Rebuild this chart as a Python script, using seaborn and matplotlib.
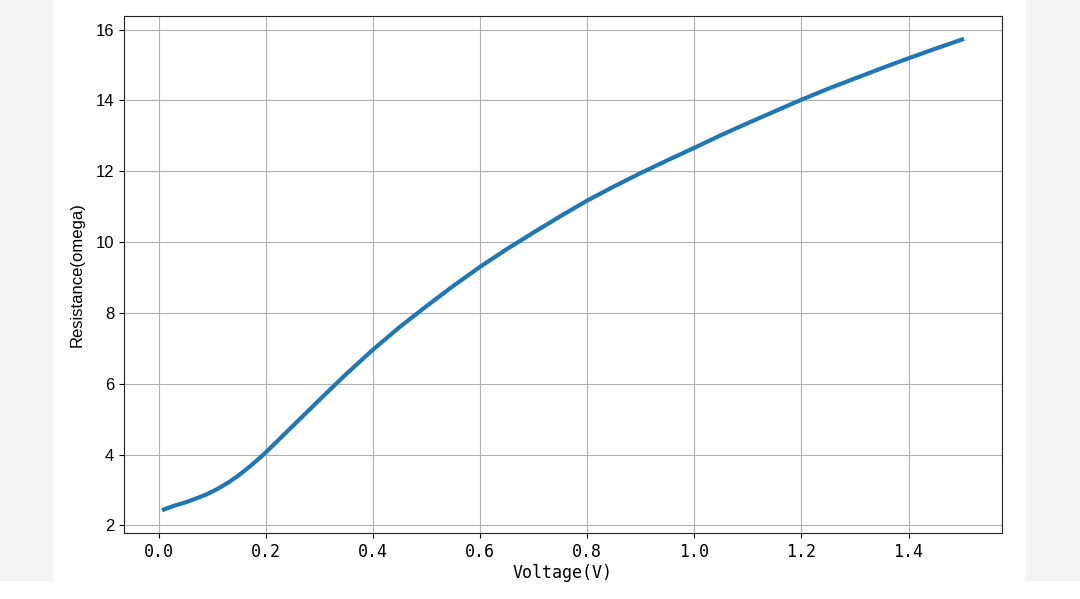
import matplotlib
matplotlib.use('Agg')
import matplotlib.pyplot as plt
import pandas as pd
import seaborn as sns
from matplotlib.patches import Rectangle

# Voltage (V) and resistance values
voltage = [0.01, 0.03, 0.05, 0.07, 0.09, 0.11, 0.13, 0.15, 0.17, 0.19,
           0.20, 0.25, 0.30, 0.35, 0.40, 0.45, 0.50, 0.55, 0.60, 0.65,
           0.70, 0.75, 0.80, 0.85, 0.90, 0.95, 1.00, 1.05, 1.10, 1.15,
           1.20, 1.25, 1.30, 1.35, 1.40, 1.45, 1.50]
resistance = [2.45, 2.56, 2.65, 2.76, 2.88, 3.03, 3.21, 3.42, 3.66, 3.92,
              4.06, 4.80, 5.54, 6.27, 6.96, 7.60, 8.19, 8.76, 9.30, 9.80,
              10.27, 10.73, 11.17, 11.57, 11.95, 12.31, 12.66, 13.02, 13.36, 13.69,
              14.02, 14.33, 14.62, 14.91, 15.19, 15.46, 15.72]

x_ticks = [0.0, 0.2, 0.4, 0.6, 0.8, 1.0, 1.2, 1.4]
x_tick_labels = ['0.0', '0.2', '0.4', '0.6', '0.8', '1.0', '1.2', '1.4']
y_ticks = [2, 4, 6, 8, 10, 12, 14, 16]

MONO = ['DejaVu Sans Mono', 'DejaVu Sans']
LATIN = ['Liberation Sans', 'DejaVu Sans']

df = pd.DataFrame({'voltage': voltage, 'resistance': resistance})

fig = plt.figure(figsize=(10.8, 5.99), dpi=100)

# blurred grey strips on both sides of the screenshot
fig.patches.append(Rectangle((0, 0.03), 53 / 1080, 0.97, transform=fig.transFigure,
                             facecolor='#f4f4f4', edgecolor='none', zorder=-10))
fig.patches.append(Rectangle((1025 / 1080, 0.03), 55 / 1080, 0.97, transform=fig.transFigure,
                             facecolor='#f4f4f4', edgecolor='none', zorder=-10))

ax = fig.add_axes([124 / 1080, 66 / 599, 878 / 1080, 517 / 599])
sns.lineplot(data=df, x='voltage', y='resistance', ax=ax, color='#1f77b4', linewidth=3)

ax.grid(True, color='#b0b0b0', linewidth=0.8)
ax.set_axisbelow(True)
ax.set_xticks(x_ticks)
ax.set_xticklabels(x_tick_labels, family=MONO, fontsize=12)
ax.set_yticks(y_ticks)
ax.set_yticklabels([str(t) for t in y_ticks], family=LATIN, fontsize=12)
ax.set_xlabel('Voltage(V)', family=MONO, fontsize=12, labelpad=2)
ax.set_ylabel('Resistance(omega)', family=LATIN, fontsize=12, labelpad=8)
for spine in ax.spines.values():
    spine.set_color('#222222')

fig.savefig('out.png', dpi=100)
